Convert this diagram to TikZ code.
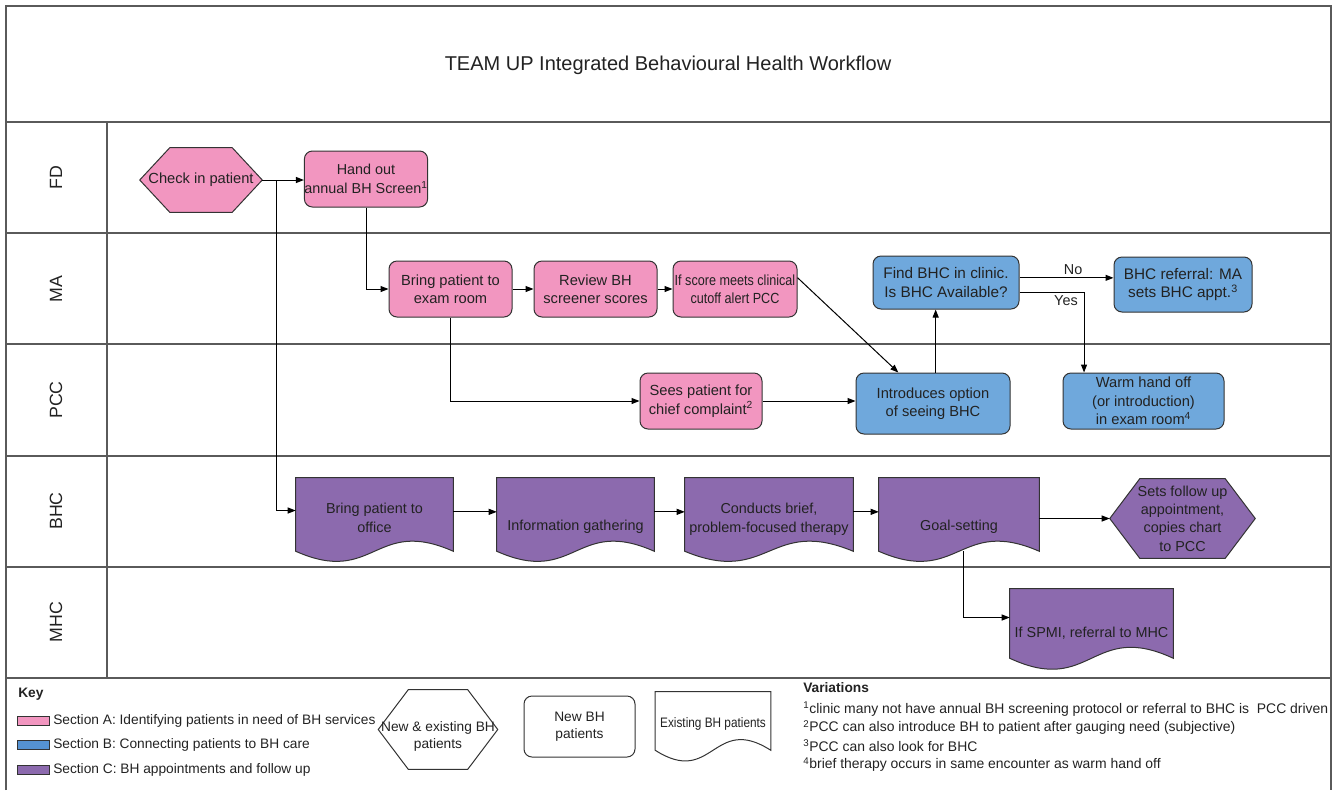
\documentclass[tikz,border=0pt]{standalone}
\usepackage{fontspec}
\setmainfont{Liberation Sans}
\newfontfamily\condfont[FakeStretch=0.86]{Liberation Sans}
\usetikzlibrary{arrows.meta,calc}
\pgfdeclarelayer{background}
\pgfsetlayers{background,main}
\definecolor{pinkc}{HTML}{F296C0}
\definecolor{bluec}{HTML}{6FA8DC}
\definecolor{blueswatch}{HTML}{5592D2}
\definecolor{purplec}{HTML}{8C6AAE}
\definecolor{lanec}{HTML}{5A5A5A}
\definecolor{edgec}{HTML}{333333}
\definecolor{txtc}{HTML}{222222}
\tikzset{
  lane/.style={draw=lanec, line width=1.1pt},
  boxbase/.style={align=center, inner sep=0pt, text=txtc, font=\fontsize{10.8}{13.8}\selectfont},
  rbox/.style={boxbase, draw=edgec, line width=0.75pt, rounded corners=6pt, font=\fontsize{11}{13.8}\selectfont},
  pinkbox/.style={rbox, fill=pinkc},
  bluebox/.style={rbox, fill=bluec},
  bigtext/.style={font=\fontsize{11.5}{14}\selectfont},
  outline/.style={draw=edgec, line width=0.75pt},
  flow/.style={draw=black, line width=0.75pt, -{Triangle[length=6pt,width=4.5pt]}},
  lanelabel/.style={rotate=90, font=\fontsize{13.3}{16}\selectfont, text=txtc, inner sep=0pt},
  keytext/.style={font=\fontsize{10.3}{13}\selectfont, text=txtc, anchor=west, inner sep=0pt},
  vartext/.style={keytext, font=\fontsize{10.45}{13}\selectfont},
  edgelabel/.style={font=\fontsize{10.8}{13}\selectfont, text=txtc, inner sep=2pt},
}
% text block lowered inside its node, keeping the node's size
\newcommand\lowtext[2]{\raisebox{-#1}[\height][\depth]{\begin{tabular}{@{}c@{}}#2\end{tabular}}}
% hexagon outline around a node: name, inset, fill colour
\newcommand\hexoutline[3]{%
  \path[outline, fill=#3] (#1.west) -- ([xshift=#2]#1.north west) -- ([xshift=-#2]#1.north east)
    -- (#1.east) -- ([xshift=-#2]#1.south east) -- ([xshift=#2]#1.south west) -- cycle;}
% document outline (wavy bottom): name, wave control offset, fill colour
\newcommand\docoutline[3]{%
  \path[outline, fill=#3] (#1.north west) -- (#1.north east) -- (#1.south east)
    .. controls ($(#1.south)+(0,-#2)$) and ($(#1.south)+(0,#2)$) .. (#1.south west) -- cycle;}
\begin{document}
\begin{tikzpicture}[x=0.75pt,y=-0.75pt]
\useasboundingbox (0,0) rectangle (1335,790);

% frame and swimlanes
\draw[lane] (6,790) -- (6,6) -- (1331,6) -- (1331,790);
\foreach \yy in {122,233,344,456,567,678} \draw[lane] (6,\yy) -- (1331,\yy);
\draw[lane] (107,122) -- (107,678);

\node[font=\fontsize{15}{18}\selectfont, text=txtc] (title) at (668,65) {TEAM UP Integrated Behavioural Health Workflow};

\node[lanelabel] (lFD)  at (56,178) {FD};
\node[lanelabel] (lMA)  at (56,289) {MA};
\node[lanelabel] (lPCC) at (56,400) {PCC};
\node[lanelabel] (lBHC) at (56,511) {BHC};
\node[lanelabel] (lMHC) at (56,622) {MHC};

% FD lane
\node[boxbase, font=\fontsize{11}{13.8}\selectfont, minimum width=91.5pt, minimum height=48pt] (checkin) at (201,180) {Check in patient};
\node[pinkbox, font=\fontsize{10.8}{13.8}\selectfont, minimum width=91.5pt, minimum height=42pt] (handout) at (366,179) {Hand out\\annual BH Screen\textsuperscript{1}};

% MA lane
\node[pinkbox, minimum width=92.25pt, minimum height=42pt] (exam) at (450.5,289) {Bring patient to\\exam room};
\node[pinkbox, minimum width=92.25pt, minimum height=42pt] (review) at (595.5,289) {Review BH\\screener scores};
\node[pinkbox, minimum width=93pt, minimum height=42pt, font=\condfont\fontsize{11}{13.8}\selectfont] (ifscore) at (735,289) {If score meets clinical\\cutoff alert PCC};
\node[bluebox, bigtext, minimum width=109.5pt, minimum height=39.75pt] (findbhc) at (946,282.5) {Find BHC in clinic.\\Is BHC Available?};
\node[bluebox, bigtext, minimum width=103.5pt, minimum height=41.25pt] (referral) at (1183,284.5) {BHC referral: MA\\sets BHC appt.\textsuperscript{3}};

% PCC lane
\node[pinkbox, minimum width=91.5pt, minimum height=42pt] (sees) at (701,401) {Sees patient for\\chief complaint\textsuperscript{2}};
\node[bluebox, minimum width=115.5pt, minimum height=45.75pt] (intro) at (933,403.5) {Introduces option\\of seeing BHC};
\node[bluebox, minimum width=120.75pt, minimum height=42pt] (warm) at (1143.5,401) {Warm hand off\\(or introduction)\\in exam room\textsuperscript{4}};

% BHC lane
\node[boxbase, minimum width=117.75pt, minimum height=54.75pt] (office) at (374.5,514.5) {\lowtext{3.75pt}{Bring patient to\\office}};
\node[boxbase, minimum width=117.75pt, minimum height=54.75pt] (info) at (575.5,514.5) {\lowtext{9.2pt}{Information gathering}};
\node[boxbase, minimum width=126pt, minimum height=54.75pt] (conducts) at (769,514.5) {\lowtext{3.75pt}{Conducts brief,\\problem-focused therapy}};
\node[boxbase, minimum width=120pt, minimum height=54.75pt] (goal) at (959,514.5) {\lowtext{9.2pt}{Goal-setting}};
\node[boxbase, minimum width=108.75pt, minimum height=59.25pt] (followup) at (1182.5,518.5) {Sets follow up\\appointment,\\copies chart\\to PCC};

% MHC lane
\node[boxbase, minimum width=122.25pt, minimum height=51.75pt] (spmi) at (1091.5,623.5) {\lowtext{7.8pt}{If SPMI, referral to MHC}};

% key
\node[keytext, font=\bfseries\fontsize{10.3}{13}\selectfont] (keyhead) at (18,694) {Key};
\node[draw=edgec, line width=0.6pt, fill=pinkc, minimum width=24pt, minimum height=6.75pt, inner sep=0pt, anchor=west] (swA) at (17,721) {};
\node[draw=edgec, line width=0.6pt, fill=blueswatch, minimum width=24pt, minimum height=6.75pt, inner sep=0pt, anchor=west] (swB) at (17,745) {};
\node[draw=edgec, line width=0.6pt, fill=purplec, minimum width=24pt, minimum height=6.75pt, inner sep=0pt, anchor=west] (swC) at (17,770) {};
\node[keytext] (kA) at (53,721) {Section A: Identifying patients in need of BH services};
\node[keytext] (kB) at (53,745) {Section B: Connecting patients to BH care};
\node[keytext] (kC) at (53,770) {Section C: BH appointments and follow up};

\node[boxbase, font=\fontsize{10.3}{13}\selectfont, minimum width=89.25pt, minimum height=59.25pt] (keyhex) at (438,729.5) {\lowtext{5.5pt}{New \& existing BH\\patients}};
\node[rbox, fill=white, font=\fontsize{10.3}{13}\selectfont, minimum width=83.25pt, minimum height=45.75pt] (keynew) at (579.5,726.5) {New BH\\patients};
\node[boxbase, font=\condfont\fontsize{10.3}{13}\selectfont, minimum width=86.25pt, minimum height=43.5pt] (keyexist) at (713,721) {\lowtext{2.5pt}{Existing BH patients}};

\node[vartext, font=\bfseries\fontsize{10.3}{13}\selectfont] (varhead) at (803,688) {Variations};
\node[vartext] (v1) at (803,709) {\textsuperscript{1}clinic many not have annual BH screening protocol or referral to BHC is\ \ PCC driven};
\node[vartext] (v2) at (803,727.5) {\textsuperscript{2}PCC can also introduce BH to patient after gauging need (subjective)};
\node[vartext] (v3) at (803,746) {\textsuperscript{3}PCC can also look for BHC};
\node[vartext] (v4) at (803,764.5) {\textsuperscript{4}brief therapy occurs in same encounter as warm hand off};

% shape outlines behind the texts
\begin{pgfonlayer}{background}
  \hexoutline{checkin}{22.5pt}{pinkc}
  \hexoutline{followup}{22.5pt}{purplec}
  \hexoutline{keyhex}{22.5pt}{white}
  \docoutline{office}{35}{purplec}
  \docoutline{info}{35}{purplec}
  \docoutline{conducts}{35}{purplec}
  \docoutline{goal}{35}{purplec}
  \docoutline{spmi}{38}{purplec}
  \docoutline{keyexist}{37}{white}
\end{pgfonlayer}

% connectors
\coordinate (branch) at (276,180);
\draw[flow] (checkin.east) -- (checkin.east -| handout.west);
\draw[flow] (branch) |- ([yshift=3pt]office.west);
\draw[flow] (handout.south) |- (exam.west);
\draw[flow] (exam.east) -- (review.west);
\draw[flow] (review.east) -- (ifscore.west);
\draw[flow] ([yshift=8.5pt]ifscore.east) -- ([xshift=-26pt]intro.north);
\draw[flow] (exam.south) |- (sees.west);
\draw[flow] (sees.east) -- (sees.east -| intro.west);
\draw[flow] ([xshift=2pt]intro.north) -- ([xshift=2pt]intro.north |- findbhc.south);
\draw[flow] ([yshift=3.5pt]findbhc.east) -- node[edgelabel, above, pos=0.57] {No} ([yshift=3.5pt]findbhc.east -| referral.west);
\draw[flow] ([yshift=-7.5pt]findbhc.east) -| node[edgelabel, below, pos=0.36] {Yes} ([xshift=-44.6pt]warm.north);
\draw[flow] ([yshift=2pt]office.east) -- ([yshift=2pt]info.west);
\draw[flow] ([yshift=2pt]info.east) -- ([yshift=2pt]conducts.west);
\draw[flow] ([yshift=2pt]conducts.east) -- ([yshift=2pt]goal.west);
\draw[flow] (goal.east |- followup.west) -- (followup.west);
\draw[flow] ([xshift=3pt]goal.south) |- ([yshift=4.5pt]spmi.west);
\end{tikzpicture}
\end{document}
